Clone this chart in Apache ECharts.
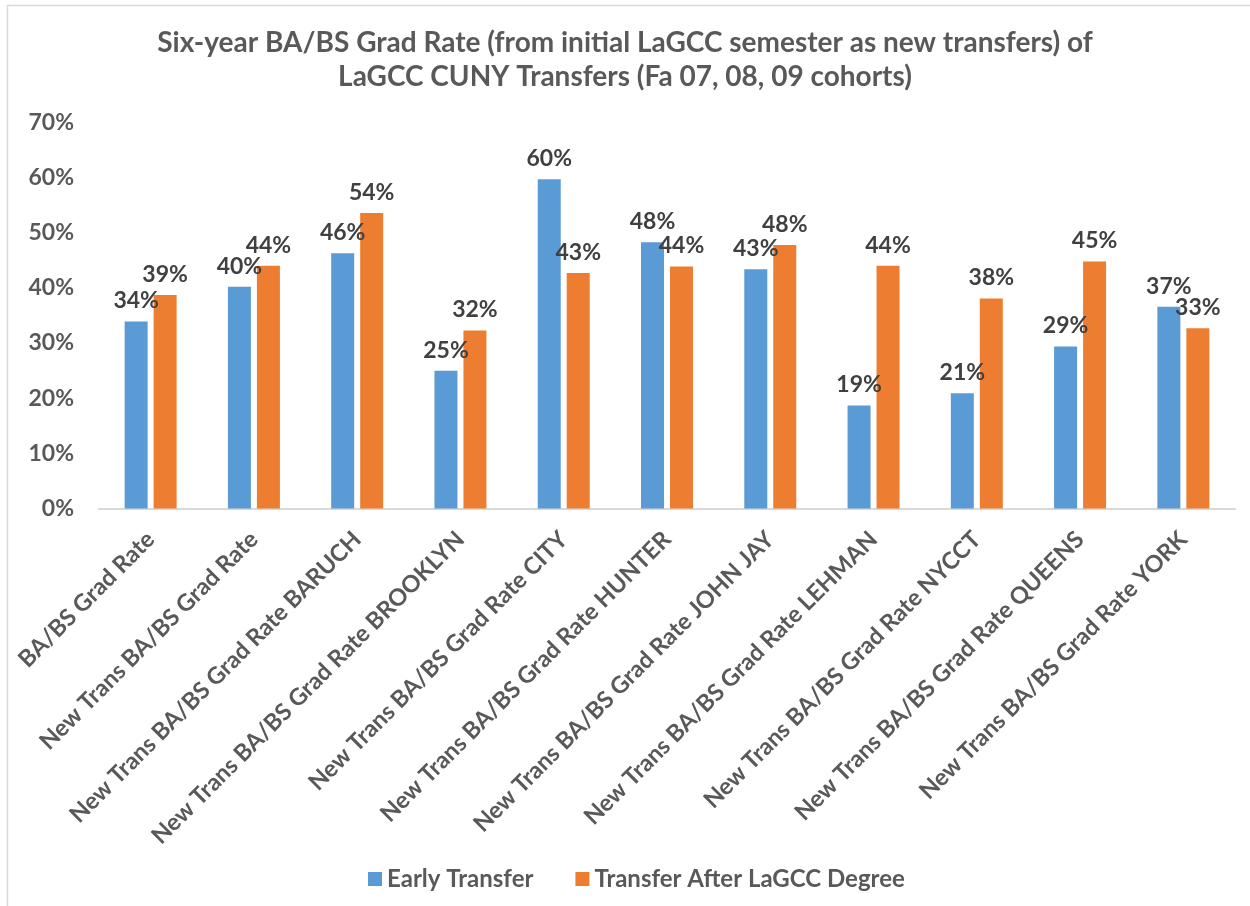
<!DOCTYPE html>
<html>
<head>
<meta charset="utf-8">
<script src="https://cdn.jsdelivr.net/npm/echarts@6/dist/echarts.min.js"></script>
<style>
html,body{margin:0;padding:0;background:#fff;}
#chart{width:1250px;height:906px;}
</style>
</head>
<body>
<div id="chart"></div>
<script>
const titleText = 'Six-year BA/BS Grad Rate (from initial LaGCC semester as new transfers) of\nLaGCC CUNY Transfers (Fa 07, 08, 09 cohorts)';
const categories = [
  'BA/BS Grad Rate',
  'New Trans BA/BS Grad Rate',
  'New Trans BA/BS Grad Rate BARUCH',
  'New Trans BA/BS Grad Rate BROOKLYN',
  'New Trans BA/BS Grad Rate CITY',
  'New Trans BA/BS Grad Rate HUNTER',
  'New Trans BA/BS Grad Rate JOHN JAY',
  'New Trans BA/BS Grad Rate LEHMAN',
  'New Trans BA/BS Grad Rate NYCCT',
  'New Trans BA/BS Grad Rate QUEENS',
  'New Trans BA/BS Grad Rate YORK'
];
const seriesNames = ['Early Transfer', 'Transfer After LaGCC Degree'];
const earlyTransfer = [33.9, 40.2, 46.3, 25.0, 59.7, 48.3, 43.4, 18.7, 20.9, 29.4, 36.6];
const afterDegree   = [38.7, 44.0, 53.6, 32.3, 42.7, 43.9, 47.8, 44.0, 38.1, 44.8, 32.7];
const yTicks = [0, 10, 20, 30, 40, 50, 60, 70];

const FONT = 'Lato';
const chart = echarts.init(document.getElementById('chart'));
const labelCfg = {
  show: true,
  position: 'top',
  distance: 9,
  formatter: p => Math.round(p.value) + '%',
  fontFamily: FONT,
  fontWeight: 'bold',
  fontSize: 23,
  color: '#404040'
};
chart.setOption({
  animation: false,
  backgroundColor: '#ffffff',
  title: {
    text: titleText,
    left: 'center',
    top: 21,
    textStyle: {
      fontFamily: FONT,
      fontWeight: 'bold',
      fontSize: 28,
      lineHeight: 34,
      color: '#595959'
    }
  },
  legend: {
    bottom: 10,
    left: 363,
    itemWidth: 14,
    itemHeight: 14,
    itemGap: 42,
    itemTextGap: 7,
    icon: 'rect',
    textStyle: {
      fontFamily: FONT,
      fontWeight: 'bold',
      fontSize: 24,
      color: '#595959'
    },
    data: seriesNames
  },
  grid: {
    left: 99,
    right: 15,
    top: 122.5,
    bottom: 397.5,
    containLabel: false
  },
  xAxis: {
    type: 'category',
    data: categories,
    axisLine: { lineStyle: { color: '#d9d9d9', width: 2 } },
    axisTick: { show: false },
    axisLabel: {
      interval: 0,
      rotate: 45,
      margin: 27,
      fontFamily: FONT,
      fontWeight: 'bold',
      fontSize: 23.5,
      color: '#595959'
    }
  },
  yAxis: {
    type: 'value',
    min: yTicks[0],
    max: yTicks[yTicks.length - 1],
    interval: 10,
    axisLine: { show: false },
    axisTick: { show: false },
    splitLine: { show: false },
    axisLabel: {
      margin: 25,
      formatter: v => v + '%',
      fontFamily: FONT,
      fontWeight: 'bold',
      fontSize: 23,
      color: '#595959'
    }
  },
  series: [
    {
      name: seriesNames[0],
      type: 'bar',
      data: earlyTransfer,
      barWidth: 23,
      barGap: '26%',
      itemStyle: { color: '#5B9BD5' },
      label: labelCfg
    },
    {
      name: seriesNames[1],
      type: 'bar',
      data: afterDegree,
      barWidth: 23,
      barGap: '26%',
      itemStyle: { color: '#ED7D31' },
      label: labelCfg
    }
  ],
  graphic: [
    { type: 'line', shape: { x1: 7.5, y1: 5, x2: 7.5, y2: 906 }, style: { stroke: '#d9d9d9', lineWidth: 1.5 }, silent: true },
    { type: 'line', shape: { x1: 7, y1: 5.5, x2: 1250, y2: 5.5 }, style: { stroke: '#d9d9d9', lineWidth: 1.5 }, silent: true }
  ]
});
</script>
</body>
</html>
